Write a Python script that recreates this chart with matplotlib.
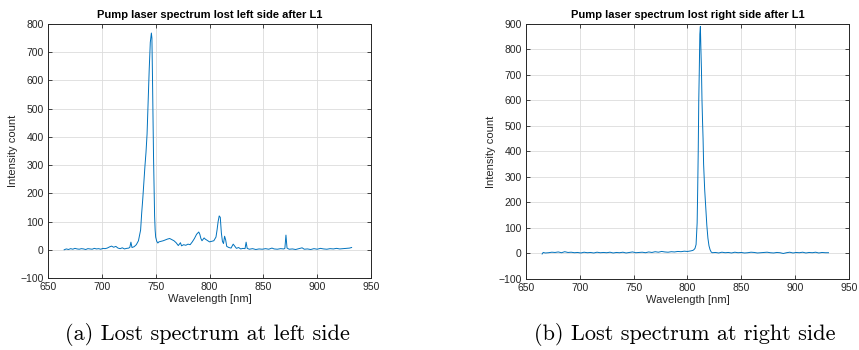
import matplotlib
matplotlib.use('Agg')
import matplotlib.pyplot as plt

# left spectrum (lost left side)
wl_left = [665, 667, 669, 671, 673, 675, 677, 679, 681, 683, 685, 687, 689, 691, 693, 695,
           697, 699, 701, 703, 705, 707, 709, 711, 713, 715, 717, 719, 721, 723, 725, 726,
           727, 728, 730, 732, 734, 736, 737, 738, 739, 740, 741, 742, 743, 744, 745, 746,
           746.5, 747, 747.5, 748, 748.5, 749, 749.5, 750, 751, 752, 753, 755, 757, 759,
           761, 763, 765, 767, 769, 771, 772, 773, 774, 776, 778, 780, 782, 784, 786, 788,
           790, 791, 792, 793, 795, 796, 798, 800, 802, 804, 806, 807, 808, 809, 810, 811,
           812, 813, 814, 815, 816, 818, 820, 822, 823, 825, 827, 829, 831, 833, 834, 835,
           837, 840, 843, 846, 849, 852, 855, 858, 860, 863, 866, 869, 870, 871, 872, 874,
           877, 880, 883, 886, 888, 891, 894, 897, 900, 903, 906, 909, 912, 915, 918, 921,
           924, 927, 930, 932]
int_left = [0, 3, 1, 4, 2, 5, 3, 2, 4, 3, 1, 4, 3, 2, 5, 3,
            4, 2, 5, 4, 6, 10, 13, 9, 12, 6, 4, 7, 3, 5, 6, 9,
            27, 8, 11, 18, 32, 70, 130, 180, 240, 295, 345, 410, 530, 640, 735, 768,
            750, 620, 460, 330, 220, 120, 70, 45, 30, 24, 28, 30, 32, 35,
            38, 40, 36, 32, 25, 15, 20, 25, 14, 18, 16, 20, 18, 28, 40, 55,
            63, 55, 40, 32, 42, 38, 33, 28, 30, 32, 45, 70, 100, 120, 115, 60,
            30, 22, 48, 35, 12, 8, 6, 20, 15, 5, 8, 3, 5, 4, 27, 5,
            2, 4, 1, 3, 2, 4, 2, 6, 3, 2, 4, 3, 5, 52, 6, 2,
            3, 1, 4, 7, 2, 3, 1, 4, 2, 5, 3, 2, 4, 3, 5, 3,
            4, 5, 6, 8]

# right spectrum (lost right side)
wl_right = [665, 666, 668, 671, 674, 677, 680, 683, 686, 689, 692, 695, 698, 701, 704, 707,
            710, 713, 716, 719, 722, 725, 728, 731, 734, 737, 740, 743, 746, 749, 752, 755,
            758, 761, 764, 767, 770, 773, 776, 779, 782, 785, 788, 791, 794, 797, 800, 803,
            805, 806, 807, 808, 809, 809.5, 810, 810.5, 811, 811.5, 812, 812.5, 813, 813.5,
            814, 814.5, 815, 816, 817, 818, 819, 820, 821, 822, 823, 826, 829, 832, 835, 838,
            841, 844, 847, 850, 853, 856, 859, 862, 865, 868, 871, 874, 877, 880, 883, 886,
            889, 892, 895, 898, 901, 904, 907, 910, 913, 916, 919, 922, 925, 928, 931]
int_right = [-2, 4, 2, 3, 5, 4, 6, 3, 7, 4, 5, 3, 4, 2, 5, 3,
             4, 2, 5, 3, 4, 3, 5, 2, 4, 3, 5, 2, 4, 6, 3, 4,
             5, 3, 6, 4, 7, 5, 8, 6, 5, 7, 6, 8, 7, 9, 8, 10,
             12, 15, 20, 35, 120, 250, 400, 600, 720, 860, 890, 800, 720, 600,
             520, 450, 350, 250, 180, 110, 60, 30, 15, 6, 3, 4, 2, 5, 3, 4,
             2, 5, 3, 4, 2, 3, 5, 4, 2, 3, 4, 5, 3, 2, 4, 3,
             0, 3, 5, 2, 4, 3, 5, 2, 4, 3, 5, 2, 4, 3, 3]

plt.rcParams['font.family'] = ['Liberation Sans', 'DejaVu Sans']
line_color = '#0072BD'
axis_color = '#262626'

fig = plt.figure(figsize=(8.59, 3.5), dpi=100)


def style_axes(ax, yticks, title):
    ax.set_xlim(650, 950)
    ax.set_xticks([650, 700, 750, 800, 850, 900, 950])
    ax.set_ylim(yticks[0], yticks[-1])
    ax.set_yticks(yticks)
    ax.grid(True, color='#dcdcdc', linewidth=0.6)
    ax.set_axisbelow(True)
    ax.tick_params(direction='in', top=True, right=True, length=3, width=0.6,
                   labelsize=7.5, colors=axis_color, pad=3)
    for s in ax.spines.values():
        s.set_color(axis_color)
        s.set_linewidth(0.7)
    ax.set_title(title, fontsize=8, fontweight='bold', color='black', pad=4)
    ax.set_xlabel('Wavelength [nm]', fontsize=8, color=axis_color, labelpad=1)
    ax.set_ylabel('Intensity count', fontsize=8, color=axis_color, labelpad=2)


ax1 = fig.add_axes([0.0559, 0.2057, 0.376, 0.7257])
ax1.plot(wl_left, int_left, color=line_color, linewidth=0.7)
style_axes(ax1, list(range(-100, 801, 100)), 'Pump laser spectrum lost left side after L1')

ax2 = fig.add_axes([0.6123, 0.2029, 0.376, 0.7286])
ax2.plot(wl_right, int_right, color=line_color, linewidth=0.7)
style_axes(ax2, list(range(-100, 901, 100)), 'Pump laser spectrum lost right side after L1')

fig.text(0.2416, 0.043, '(a) Lost spectrum at left side', ha='center', va='center',
         fontsize=16, family='cmr10')
fig.text(0.797, 0.043, '(b) Lost spectrum at right side', ha='center', va='center',
         fontsize=16, family='cmr10')

fig.savefig('out.png', dpi=100)
